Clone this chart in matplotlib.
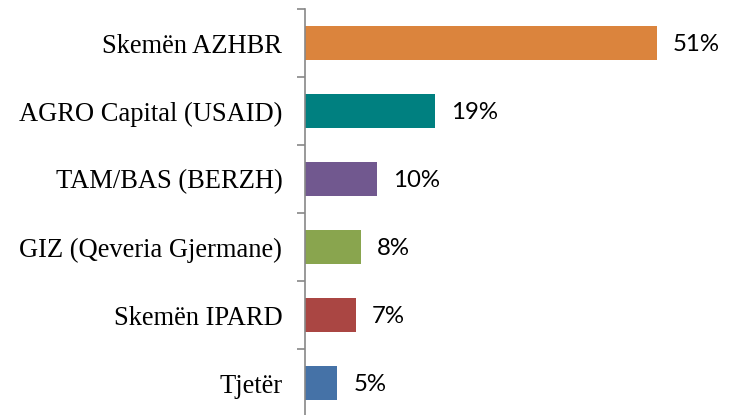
import matplotlib
matplotlib.use("Agg")
import matplotlib.pyplot as plt

categories = ["Skemën AZHBR", "AGRO Capital (USAID)", "TAM/BAS (BERZH)",
              "GIZ (Qeveria Gjermane)", "Skemën IPARD", "Tjetër"]
values = [51, 18.8, 10.4, 8.1, 7.4, 4.7]
value_labels = ["51%", "19%", "10%", "8%", "7%", "5%"]
colors = ["#DB843D", "#008080", "#71588F", "#89A54E", "#AA4643", "#4572A7"]

W, H = 734, 415
fig = plt.figure(figsize=(W / 100, H / 100), dpi=100)
left_px, top_px, bottom_px = 305, 9, 417
ax = fig.add_axes([left_px / W, (H - bottom_px) / H, (W - left_px) / W, (bottom_px - top_px) / H])

n = len(categories)
ypos = list(range(n))[::-1]
ax.barh(ypos, values, height=0.51, color=colors)
ax.set_ylim(-0.5, n - 0.5)
px_per_unit = 6.9
ax.set_xlim(0, (W - left_px) / px_per_unit)

for y, v, lab in zip(ypos, values, value_labels):
    ax.annotate(lab, (v, y), xytext=(11.5, -0.8), textcoords="offset points",
                ha="left", va="center", fontsize=17.3, family=["Lato", "DejaVu Sans"],
                color="#000000")

ax.set_yticks(ypos)
ax.set_yticklabels(categories, family=["Liberation Serif", "DejaVu Serif"], fontsize=19.1)
ax.set_yticks([i - 0.5 for i in range(n + 1)], minor=True)
ax.tick_params(axis="y", which="major", length=0, pad=16.3)
ax.tick_params(axis="y", which="minor", length=5.8, width=1.2, color="#878787", direction="out")
ax.set_xticks([])
for s in ["top", "right", "bottom"]:
    ax.spines[s].set_visible(False)
ax.spines["left"].set_color("#878787")
ax.spines["left"].set_linewidth(1.2)

fig.savefig("out.png", dpi=100)
